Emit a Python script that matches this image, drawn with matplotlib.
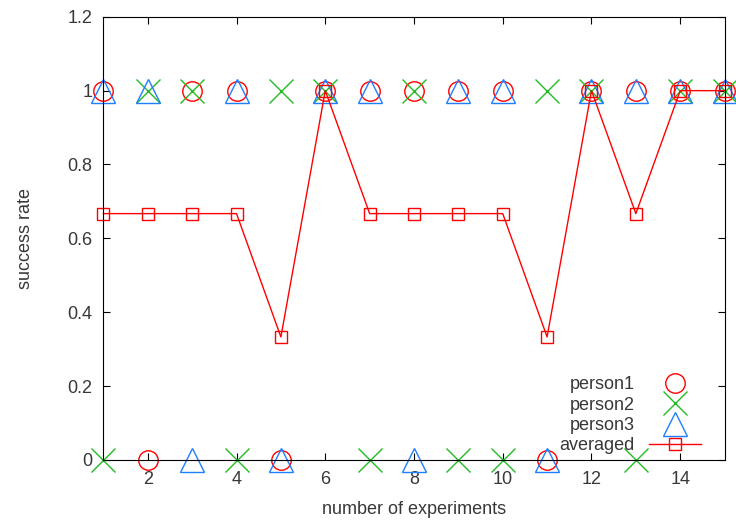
import matplotlib
matplotlib.use("Agg")
from matplotlib import pyplot as plt

# experiment index and per-person outcome (1 = success, 0 = failure)
experiments = list(range(1, 16))
person1 = [1, 0, 1, 1, 0, 1, 1, 1, 1, 1, 0, 1, 1, 1, 1]
person2 = [0, 1, 1, 0, 1, 1, 0, 1, 0, 0, 1, 1, 0, 1, 1]
person3 = [1, 1, 0, 1, 0, 1, 1, 0, 1, 1, 0, 1, 1, 1, 1]
averaged = [0.667, 0.667, 0.667, 0.667, 0.333, 1, 0.667, 0.667,
            0.667, 0.667, 0.333, 1, 0.667, 1, 1]

x_ticks = [2, 4, 6, 8, 10, 12, 14]
y_ticks = [0, 0.2, 0.4, 0.6, 0.8, 1, 1.2]
y_labels = ["0", "0.2", "0.4", "0.6", "0.8", "1", "1.2"]

plt.rcParams['font.family'] = ['Liberation Sans', 'DejaVu Sans']
plt.rcParams['font.size'] = 13
text_col = '#383838'

fig = plt.figure(figsize=(7.36, 5.25), dpi=100)
ax = fig.add_axes([0.1405, 0.124, 0.844, 0.844])

ax.plot(experiments, person1, linestyle='none', marker='o', markersize=14,
        markerfacecolor='none', markeredgecolor='#ff0000', markeredgewidth=1,
        clip_on=False, label='person1')
ax.plot(experiments, person2, linestyle='none', marker='x', markersize=17,
        markeredgecolor='#22bb22', markeredgewidth=1,
        clip_on=False, label='person2')
ax.plot(experiments, person3, linestyle='none', marker='^', markersize=17,
        markerfacecolor='none', markeredgecolor='#1e7fff', markeredgewidth=1,
        clip_on=False, label='person3')
ax.plot(experiments, averaged, color='#ff0000', linewidth=1, marker='s',
        markersize=9, markerfacecolor='none', markeredgecolor='#ff0000',
        markeredgewidth=1, clip_on=False, label='averaged')

ax.set_xlim(1, 15)
ax.set_ylim(0, 1.2)
ax.set_xticks(x_ticks)
ax.set_yticks(y_ticks)
ax.set_yticklabels(y_labels)
ax.tick_params(direction='in', top=True, right=True, length=5,
               labelcolor=text_col, pad=8)
ax.set_xlabel('number of experiments', color=text_col, labelpad=9)
ax.set_ylabel('success rate', color=text_col, labelpad=24)

leg = ax.legend(loc='lower right', bbox_to_anchor=(0.974, -0.004),
                frameon=False, markerfirst=False,
                handlelength=2.9, handletextpad=0.8, labelspacing=0.19,
                borderaxespad=0, borderpad=0.4, fontsize=13)
for t in leg.get_texts():
    t.set_color(text_col)

fig.savefig('out.png', dpi=100)
